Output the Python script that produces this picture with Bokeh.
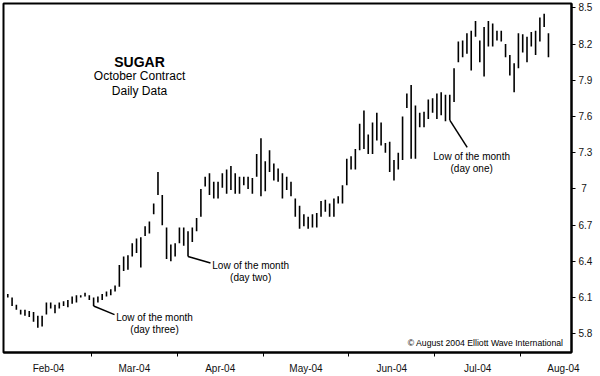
from bokeh.plotting import figure
from bokeh.models import FixedTicker, Range1d, Label, ColumnDataSource
from bokeh.embed import file_html
from bokeh.resources import INLINE

# Daily high / low of the October sugar contract (one bar per trading day)
high = [6.13, 6.10, 6.04, 6.00, 6.00, 5.99, 5.98, 5.95, 5.95, 6.06,
        6.06, 6.04, 6.06, 6.07, 6.08, 6.11, 6.12, 6.12, 6.14, 6.12,
        6.10, 6.11, 6.13, 6.15, 6.17, 6.20, 6.37, 6.44, 6.45, 6.55,
        6.59, 6.60, 6.69, 6.73, 6.88, 7.14, 6.95, 6.68, 6.54, 6.55,
        6.68, 6.68, 6.65, 6.68, 6.76, 7.00, 7.10, 7.13, 7.06, 7.06,
        7.13, 7.16, 7.19, 7.13, 7.10, 7.10, 7.10, 7.09, 7.29, 7.42,
        7.23, 7.32, 7.21, 7.17, 7.13, 7.10, 7.06, 6.92, 6.86, 6.79,
        6.77, 6.79, 6.80, 6.90, 6.91, 6.88, 6.92, 6.94, 7.03, 7.25,
        7.27, 7.33, 7.54, 7.65, 7.45, 7.55, 7.63, 7.55, 7.38, 7.39,
        7.24, 7.30, 7.60, 7.79, 7.86, 7.69, 7.63, 7.64, 7.74, 7.75,
        7.79, 7.80, 7.78, 7.78, 8.00, 8.22, 8.23, 8.29, 8.31, 8.39,
        8.23, 8.34, 8.39, 8.37, 8.31, 8.31, 8.20, 8.11, 8.04, 8.29,
        8.28, 8.26, 8.30, 8.31, 8.42, 8.45, 8.29]
low = [6.10, 6.03, 6.00, 5.96, 5.95, 5.94, 5.90, 5.85, 5.86, 5.96,
       6.01, 5.97, 6.01, 6.03, 6.02, 6.05, 6.06, 6.10, 6.11, 6.08,
       6.03, 6.06, 6.08, 6.11, 6.12, 6.15, 6.19, 6.32, 6.33, 6.44,
       6.47, 6.35, 6.61, 6.63, 6.79, 6.95, 6.70, 6.42, 6.40, 6.44,
       6.55, 6.53, 6.44, 6.56, 6.65, 6.77, 7.02, 6.95, 6.92, 6.92,
       7.01, 6.96, 6.99, 6.96, 6.96, 7.03, 7.00, 6.96, 7.10, 6.94,
       6.98, 7.14, 7.07, 7.06, 6.92, 6.99, 6.94, 6.77, 6.67, 6.69,
       6.67, 6.68, 6.68, 6.77, 6.81, 6.77, 6.77, 6.88, 6.88, 7.03,
       7.16, 7.16, 7.32, 7.33, 7.29, 7.29, 7.40, 7.36, 7.30, 7.14,
       7.07, 7.16, 7.24, 7.67, 7.25, 7.25, 7.51, 7.51, 7.58, 7.63,
       7.58, 7.61, 7.56, 7.57, 7.72, 8.05, 8.09, 8.12, 7.98, 8.26,
       8.05, 7.93, 8.18, 8.18, 8.23, 8.22, 8.09, 7.94, 7.80, 8.00,
       8.13, 8.05, 8.18, 8.11, 8.22, 8.34, 8.09]
day = list(range(len(high)))

month_labels = ["Feb-04", "Mar-04", "Apr-04", "May-04", "Jun-04", "Jul-04", "Aug-04"]
month_label_pos = [9.5, 29.5, 49.5, 69.5, 89.5, 109.5, 129.5]
month_ticks = [19.5, 39.5, 59.5, 79.5, 99.5, 119.5]
price_ticks = [5.8, 6.1, 6.4, 6.7, 7.0, 7.3, 7.6, 7.9, 8.2, 8.5]
price_labels = ["5.8", "6.1", "6.4", "6.7", "\u00a07", "7.3", "7.6", "7.9", "8.2", "8.5"]

FONT = "Liberation Sans"

p = figure(width=600, height=376, output_backend="svg", toolbar_location=None,
           x_range=Range1d(-1.0, 131.37), y_range=Range1d(5.6453, 8.5355),
           y_axis_location="right",
           min_border_left=3, min_border_top=3, min_border_right=29, min_border_bottom=23)
p.background_fill_color = "white"
p.border_fill_color = "white"
p.grid.visible = False
p.outline_line_color = "black"
p.outline_line_width = 2
p.outline_line_alpha = 1.0

src = ColumnDataSource(dict(day=day, high=high, low=low))
p.segment(x0="day", y0="low", x1="day", y1="high", source=src,
          line_color="black", line_width=1.6)

# x axis: month labels between tick marks
xa = p.xaxis[0]
xa.ticker = FixedTicker(ticks=month_label_pos, minor_ticks=month_ticks)
xa.major_label_overrides = {t: l for t, l in zip(month_label_pos, month_labels)}
xa.major_tick_line_color = None
xa.major_tick_out = 4
xa.major_tick_in = 0
xa.minor_tick_line_color = "black"
xa.minor_tick_out = 4
xa.minor_tick_in = 0
xa.axis_line_color = "black"
xa.axis_line_width = 2
xa.major_label_standoff = 6
xa.major_label_text_font = FONT
xa.major_label_text_font_size = "10px"
xa.major_label_text_color = "#111111"

ya = p.yaxis[0]
ya.ticker = FixedTicker(ticks=price_ticks)
ya.major_label_overrides = {t: l for t, l in zip(price_ticks, price_labels)}
ya.major_tick_out = 4
ya.major_tick_in = 0
ya.major_tick_line_color = "black"
ya.minor_tick_line_color = None
ya.axis_line_color = "black"
ya.axis_line_width = 2
ya.major_label_standoff = 3
ya.major_label_text_font = FONT
ya.major_label_text_font_size = "10px"
ya.major_label_text_color = "#111111"

# Title block
for txt, yy, style, size in [("SUGAR", 8.048, "bold", "14px"),
                             ("October Contract", 7.933, "normal", "12px"),
                             ("Daily Data", 7.809, "normal", "12px")]:
    p.add_layout(Label(x=30.7, y=yy, text=txt, text_align="center", text_baseline="middle",
                       text_font=FONT, text_font_size=size, text_font_style=style,
                       text_color="black"))

# "Low of the month" call-outs
callouts = [
    (20, 24.87, 5.959, 34.2, 5.934, 5.835, "(day three)"),
    (42, 47.24, 6.386, 56.6, 6.364, 6.265, "(day two)"),
    (103, 107.06, 7.344, 108.1, 7.268, 7.169, "(day one)"),
]
for bar, ex, ey, tx, ty1, ty2, sub in callouts:
    p.line([day[bar], ex], [low[bar], ey], line_color="black", line_width=1.5)
    p.add_layout(Label(x=tx, y=ty1, text="Low of the month", text_align="center",
                       text_baseline="middle", text_font=FONT, text_font_size="10px",
                       text_color="black"))
    p.add_layout(Label(x=tx, y=ty2, text=sub, text_align="center",
                       text_baseline="middle", text_font=FONT, text_font_size="10px",
                       text_color="black"))

p.add_layout(Label(x=129.5, y=5.728, text="\u00a9 August 2004 Elliott Wave International",
                   text_align="right", text_baseline="middle", text_font=FONT,
                   text_font_size="8.7px", text_color="black"))

open("out.html", "w").write(file_html(p, INLINE))
